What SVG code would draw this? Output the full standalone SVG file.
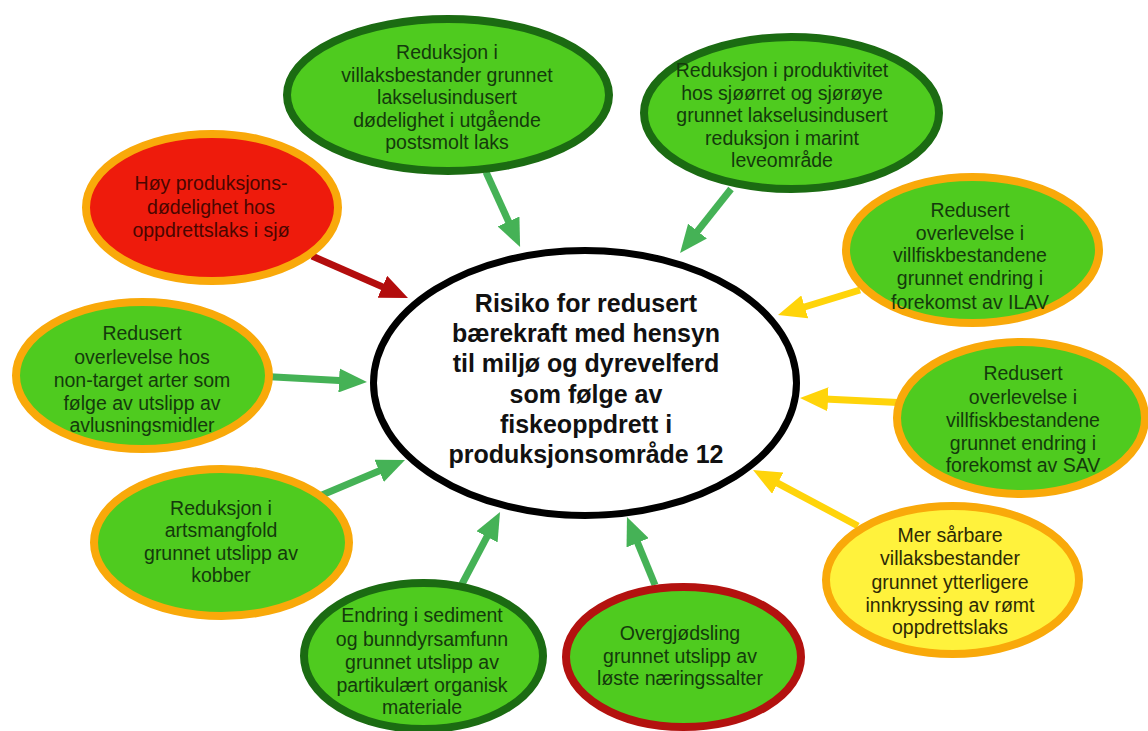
<svg xmlns="http://www.w3.org/2000/svg" width="1148" height="731" viewBox="0 0 1148 731">
<style>
.n{stroke-width:8}
.g{fill:#4fcb1f}
.dg{stroke:#1b6b12}
.or{stroke:#f9a90a}
.rd{stroke:#b3120f}
.t{font-family:"Liberation Sans",Arial,sans-serif;font-size:19.5px;text-anchor:middle;fill:#143a0c}
.c{font-family:"Liberation Sans",Arial,sans-serif;font-size:25px;font-weight:bold;text-anchor:middle;fill:#111}
.a{stroke-width:7;fill:none}
</style>
<defs>
<marker id="hg" markerUnits="userSpaceOnUse" markerWidth="28" markerHeight="24" refX="14" refY="12" orient="auto"><path d="M0,0 L28,12 L0,24 z" fill="#45b256"/></marker>
<marker id="hr" markerUnits="userSpaceOnUse" markerWidth="28" markerHeight="24" refX="14" refY="12" orient="auto"><path d="M0,0 L28,12 L0,24 z" fill="#b30d0d"/></marker>
<marker id="hy" markerUnits="userSpaceOnUse" markerWidth="28" markerHeight="24" refX="14" refY="12" orient="auto"><path d="M0,0 L28,12 L0,24 z" fill="#ffd40a"/></marker>
</defs>
<rect width="1148" height="731" fill="#fff"/>
<g id="connectors">
<line class="a" stroke="#45b256" x1="486" y1="172" x2="514.3" y2="234.2" marker-end="url(#hg)"/>
<line class="a" stroke="#45b256" x1="731" y1="189" x2="688.8" y2="242.1" marker-end="url(#hg)"/>
<line class="a" stroke="#b30d0d" x1="312" y1="256" x2="395.2" y2="292.4" marker-end="url(#hr)"/>
<line class="a" stroke="#45b256" x1="270" y1="376.7" x2="353" y2="381.2" marker-end="url(#hg)"/>
<line class="a" stroke="#45b256" x1="322" y1="495" x2="392.1" y2="465.5" marker-end="url(#hg)"/>
<line class="a" stroke="#45b256" x1="461" y1="586" x2="493.5" y2="524.4" marker-end="url(#hg)"/>
<line class="a" stroke="#45b256" x1="655" y1="585" x2="632.3" y2="529.9" marker-end="url(#hg)"/>
<line class="a" stroke="#ffd40a" x1="858" y1="526" x2="765.4" y2="476.6" marker-end="url(#hy)"/>
<line class="a" stroke="#ffd40a" x1="898" y1="402.5" x2="814" y2="398.6" marker-end="url(#hy)"/>
<line class="a" stroke="#ffd40a" x1="860" y1="290" x2="791.4" y2="311" marker-end="url(#hy)"/>
</g>
<g id="center">
<ellipse cx="585" cy="383" rx="211.5" ry="132.5" fill="#fff" stroke="#000" stroke-width="7"/>
<text class="c"><tspan x="586" y="312">Risiko for redusert</tspan><tspan x="586" y="342">bærekraft med hensyn</tspan><tspan x="586" y="372">til miljø og dyrevelferd</tspan><tspan x="586" y="403">som følge av</tspan><tspan x="586" y="433">fiskeoppdrett i</tspan><tspan x="586" y="463">produksjonsområde 12</tspan></text>
</g>
<g id="villaks">
<ellipse class="n g dg" cx="448" cy="95" rx="161" ry="76"/>
<text class="t"><tspan x="447" y="59">Reduksjon i</tspan><tspan x="447" y="81.5">villaksbestander grunnet</tspan><tspan x="447" y="104">lakselusindusert</tspan><tspan x="447" y="126.5">dødelighet i utgående</tspan><tspan x="447" y="149">postsmolt laks</tspan></text>
</g>
<g id="produktivitet">
<ellipse class="n g dg" cx="791.5" cy="113" rx="147.5" ry="76"/>
<text class="t"><tspan x="782" y="77">Reduksjon i produktivitet</tspan><tspan x="782" y="100">hos sjøørret og sjørøye</tspan><tspan x="782" y="122">grunnet lakselusindusert</tspan><tspan x="782" y="145">reduksjon i marint</tspan><tspan x="782" y="167">leveområde</tspan></text>
</g>
<g id="dodelighet">
<ellipse class="n or" cx="212" cy="207.5" rx="126" ry="73.5" fill="#ee1b0c"/>
<text class="t" style="fill:#4a0600"><tspan x="211" y="190">Høy produksjons-</tspan><tspan x="211" y="214">dødelighet hos</tspan><tspan x="211" y="237">oppdrettslaks i sjø</tspan></text>
</g>
<g id="avlusning">
<ellipse class="n g or" cx="142.5" cy="375.5" rx="126.5" ry="73.5"/>
<text class="t"><tspan x="142" y="340">Redusert</tspan><tspan x="142" y="364">overlevelse hos</tspan><tspan x="142" y="387">non-target arter som</tspan><tspan x="142" y="410">følge av utslipp av</tspan><tspan x="142" y="432">avlusningsmidler</tspan></text>
</g>
<g id="ilav">
<ellipse class="n g or" cx="972.5" cy="250" rx="126.5" ry="73"/>
<text class="t"><tspan x="970" y="217">Redusert</tspan><tspan x="970" y="240">overlevelse i</tspan><tspan x="970" y="262">villfiskbestandene</tspan><tspan x="970" y="285">grunnet endring i</tspan><tspan x="970" y="309">forekomst av ILAV</tspan></text>
</g>
<g id="sav">
<ellipse class="n g or" cx="1021" cy="418" rx="124" ry="76"/>
<text class="t"><tspan x="1023" y="380">Redusert</tspan><tspan x="1023" y="404">overlevelse i</tspan><tspan x="1023" y="427">villfiskbestandene</tspan><tspan x="1023" y="450">grunnet endring i</tspan><tspan x="1023" y="472">forekomst av SAV</tspan></text>
</g>
<g id="kobber">
<ellipse class="n g or" cx="221.5" cy="542.5" rx="127.5" ry="73.5"/>
<text class="t"><tspan x="221" y="515">Reduksjon i</tspan><tspan x="221" y="537">artsmangfold</tspan><tspan x="221" y="560">grunnet utslipp av</tspan><tspan x="221" y="582">kobber</tspan></text>
</g>
<g id="sediment">
<ellipse class="n g dg" cx="423.5" cy="656" rx="119.5" ry="73"/>
<text class="t"><tspan x="422" y="622">Endring i sediment</tspan><tspan x="422" y="646">og bunndyrsamfunn</tspan><tspan x="422" y="669">grunnet utslipp av</tspan><tspan x="422" y="692">partikulært organisk</tspan><tspan x="422" y="714">materiale</tspan></text>
</g>
<g id="overgjodsling">
<ellipse class="n g rd" cx="683.5" cy="657" rx="117.5" ry="70"/>
<text class="t"><tspan x="680" y="640">Overgjødsling</tspan><tspan x="680" y="663">grunnet utslipp av</tspan><tspan x="680" y="685">løste næringssalter</tspan></text>
</g>
<g id="romt">
<ellipse class="n or" cx="952.5" cy="580" rx="126.5" ry="74" fill="#fff23c"/>
<text class="t" style="fill:#2e2a05"><tspan x="950" y="542">Mer sårbare</tspan><tspan x="950" y="565">villaksbestander</tspan><tspan x="950" y="589">grunnet ytterligere</tspan><tspan x="950" y="612">innkryssing av rømt</tspan><tspan x="950" y="634">oppdrettslaks</tspan></text>
</g>
</svg>
